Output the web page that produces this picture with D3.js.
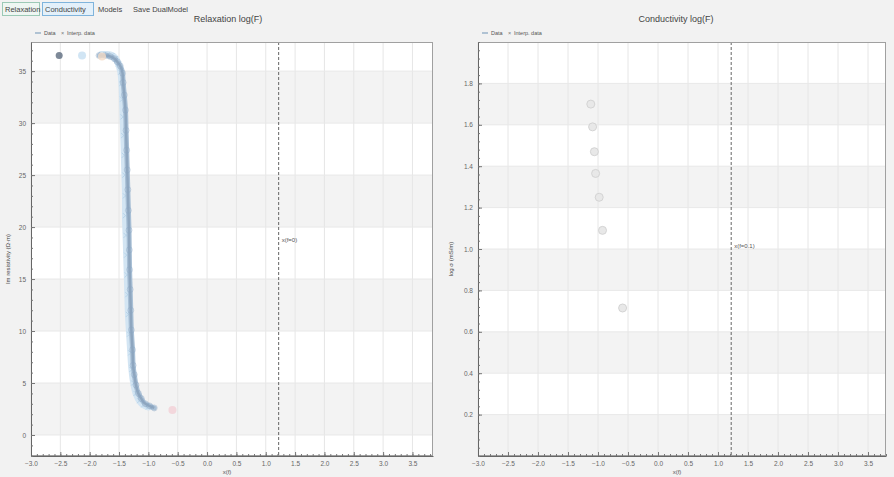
<!DOCTYPE html>
<html><head><meta charset="utf-8">
<script src="https://cdn.jsdelivr.net/npm/d3@7"></script>
<style>
html,body{margin:0;padding:0;background:#f2f2f2;}
svg{display:block;font-family:"Liberation Sans",Arial,sans-serif;}
</style></head><body>
<svg id="c" width="894" height="477"></svg>
<script>
// ---------- data ----------
const tabLabels = ["Relaxation", "Conductivity", "Models", "Save DualModel"];
const titles = ["Relaxation log(F)", "Conductivity log(F)"];
const xTicks = [-3.0, -2.5, -2.0, -1.5, -1.0, -0.5, 0.0, 0.5, 1.0, 1.5, 2.0, 2.5, 3.0, 3.5];
const relaxYTicks = [0, 5, 10, 15, 20, 25, 30, 35];
const condYTicks = [0.2, 0.4, 0.6, 0.8, 1.0, 1.2, 1.4, 1.6, 1.8];

// Relaxation: measured data (line + circles)
const relaxDataX = [-1.84, -1.73, -1.65, -1.58, -1.53, -1.48, -1.44, -1.43, -1.41, -1.39, -1.38, -1.37, -1.36, -1.35, -1.34, -1.33, -1.325, -1.32, -1.31, -1.30, -1.29, -1.27, -1.26, -1.24, -1.21, -1.17, -1.12, -1.05, -0.98, -0.90];
const relaxDataY = [36.5, 36.5, 36.4, 36.2, 35.9, 35.5, 34.8, 33.9, 32.7, 31.25, 29.3, 27.4, 25.5, 23.6, 21.6, 19.7, 17.8, 15.9, 14.0, 12.0, 10.1, 8.2, 6.7, 5.8, 4.8, 4.0, 3.5, 3.0, 2.8, 2.6];
// Relaxation: interpolated data (crosses)
const relaxInterpX = [-1.80, -1.70, -1.62, -1.56, -1.51, -1.47, -1.45, -1.44, -1.43, -1.42, -1.41, -1.40, -1.39, -1.39, -1.38, -1.37, -1.36, -1.35, -1.34, -1.32, -1.30, -1.28, -1.25, -1.21, -1.15, -1.08, -1.00];
const relaxInterpY = [36.6, 36.6, 36.5, 36.2, 35.7, 34.9, 33.8, 32.3, 30.6, 28.8, 26.9, 25.0, 23.0, 21.1, 19.2, 17.3, 15.4, 13.5, 11.6, 9.7, 7.9, 6.3, 5.0, 4.0, 3.3, 2.9, 2.7];
// Special markers (start/end points)
const relaxMarkX = [-2.52, -2.13, -1.79, -0.59];
const relaxMarkY = [36.5, 36.5, 36.4, 2.4];

// Conductivity points
const condX = [-1.12, -1.09, -1.06, -1.04, -0.98, -0.925, -0.59];
const condY = [1.70, 1.59, 1.47, 1.365, 1.25, 1.09, 0.715];

const cutoffX = 1.22;
const cutoffLabels = ["x(f=0)", "x(f=0.1)"];
const legendLabels = ["Data", "Interp. data"];
const xTitle = "x(f)";
const yTitles = ["Im resistivity (Ω·m)", "log σ (mS/m)"];

// ---------- drawing ----------
const svg = d3.select("#c");
const markColors = ["#5d6b7e", "#c6dff1", "#f4dcc8", "#f3d0d6"];

// tab bar
const tabPos = [[2, 37], [42, 51], [95, 28], [130, 62]];
const tabs = svg.append("g");
tabLabels.forEach((t, i) => {
  const [tx, tw] = tabPos[i];
  if (i < 2) {
    tabs.append("rect").attr("x", tx + 0.5).attr("y", 2.5).attr("width", tw).attr("height", 13)
      .attr("fill", i === 0 ? "#eef6f2" : "#e3f0fa").attr("stroke", i === 0 ? "#9cc9b6" : "#7fb4dc");
  }
  tabs.append("text").attr("x", tx + 3).attr("y", 12).attr("font-size", 7.5).attr("fill", "#444").text(t);
});

function panel(cfg) {
  const g = svg.append("g");
  const x = d3.scaleLinear().domain(cfg.xDomain).range([cfg.left, cfg.right]);
  const y = d3.scaleLinear().domain(cfg.yDomain).range([cfg.bottom, cfg.top]);
  const W = cfg.right - cfg.left, H = cfg.bottom - cfg.top;

  g.append("rect").attr("x", cfg.left).attr("y", cfg.top).attr("width", W).attr("height", H).attr("fill", "#fff");
  // alternating bands
  const bandStarts = d3.range(cfg.yDomain[0] < 0 ? 0 : cfg.yDomain[0], cfg.yDomain[1] - 1e-9, 2 * cfg.yStep);
  g.selectAll(null).data(bandStarts).join("rect")
    .attr("x", cfg.left).attr("width", W)
    .attr("y", d => y(Math.min(d + cfg.yStep, cfg.yDomain[1])))
    .attr("height", d => y(d) - y(Math.min(d + cfg.yStep, cfg.yDomain[1])))
    .attr("fill", "#f3f3f3");
  // grid
  g.selectAll(null).data(cfg.xTicks).join("line")
    .attr("x1", d => x(d)).attr("x2", d => x(d)).attr("y1", cfg.top).attr("y2", cfg.bottom)
    .attr("stroke", "#e6e6e6").attr("stroke-width", 1);
  g.selectAll(null).data(cfg.yTicks).join("line")
    .attr("y1", d => y(d)).attr("y2", d => y(d)).attr("x1", cfg.left).attr("x2", cfg.right)
    .attr("stroke", "#e8e8e8").attr("stroke-width", 1);

  // cutoff line
  g.append("line").attr("x1", x(cutoffX)).attr("x2", x(cutoffX)).attr("y1", cfg.top).attr("y2", cfg.bottom)
    .attr("stroke", "#666").attr("stroke-width", 1).attr("stroke-dasharray", "3,2");
  g.append("text").attr("x", x(cutoffX) + 3).attr("y", cfg.cutLabelY).attr("font-size", 6).attr("fill", "#555")
    .text(cfg.cutLabel);

  // data
  cfg.drawData(g, x, y);

  // frame
  g.append("rect").attr("x", cfg.left + 0.5).attr("y", cfg.top + 0.5).attr("width", W - 1).attr("height", H - 1)
    .attr("fill", "none").attr("stroke", "#a0a0a0");

  // axes
  const fmtX = d3.format(".1f");
  const xMinor = d3.range(cfg.xDomain[0], cfg.xDomain[1] + 1e-9, 0.1);
  const yMinor = d3.range(Math.ceil(cfg.yDomain[0] / cfg.yMinor) * cfg.yMinor, cfg.yDomain[1] + 1e-9, cfg.yMinor);
  const axStyle = s => {
    s.selectAll("path").attr("stroke", "#666");
    s.selectAll("line").attr("stroke", "#777");
    s.selectAll("text").attr("font-size", 6.5).attr("fill", "#666").attr("font-family", "Liberation Sans, Arial, sans-serif");
  };
  g.append("g").attr("transform", `translate(0,${cfg.bottom})`)
    .call(d3.axisBottom(x).tickValues(xMinor).tickSize(-2).tickSizeOuter(0).tickFormat(""))
    .call(axStyle);
  g.append("g").attr("transform", `translate(0,${cfg.bottom})`)
    .call(d3.axisBottom(x).tickValues(cfg.xTicks).tickSize(-4).tickSizeOuter(0).tickPadding(5).tickFormat(fmtX))
    .call(axStyle).call(s => s.select("path").remove());
  g.append("g").attr("transform", `translate(${cfg.left},0)`)
    .call(d3.axisLeft(y).tickValues(yMinor).tickSize(-2).tickSizeOuter(0).tickFormat(""))
    .call(axStyle);
  g.append("g").attr("transform", `translate(${cfg.left},0)`)
    .call(d3.axisLeft(y).tickValues(cfg.yTicks).tickSize(-4).tickSizeOuter(0).tickPadding(5).tickFormat(cfg.yFmt))
    .call(axStyle).call(s => s.select("path").remove());

  // titles
  g.append("text").attr("x", cfg.titleX).attr("y", 22).attr("text-anchor", "middle")
    .attr("font-size", 9).attr("fill", "#444").text(cfg.title);
  g.append("text").attr("x", (cfg.left + cfg.right) / 2 - 5).attr("y", 474).attr("text-anchor", "middle")
    .attr("font-size", 6).attr("fill", "#555").text(xTitle);
  g.append("text").attr("transform", `translate(${cfg.yTitleX},${(cfg.top + cfg.bottom) / 2 + 10}) rotate(-90)`)
    .attr("text-anchor", "middle").attr("font-size", 6).attr("fill", "#444").text(cfg.yTitle);

  // legend
  const lg = g.append("g").attr("transform", `translate(${cfg.left + 4},35)`);
  lg.append("line").attr("x1", 0).attr("x2", 6).attr("y1", -2).attr("y2", -2).attr("stroke", "#6f93b5");
  lg.append("text").attr("x", 9).attr("y", 0).attr("font-size", 5.5).attr("fill", "#555").text(legendLabels[0]);
  lg.append("text").attr("x", 26).attr("y", 0).attr("font-size", 5.5).attr("fill", "#777").text("×");
  lg.append("text").attr("x", 32).attr("y", 0).attr("font-size", 5.5).attr("fill", "#555").text(legendLabels[1]);
}

panel({
  left: 31, right: 433, top: 42, bottom: 456,
  xDomain: [-3.0, 3.85], yDomain: [-2.02, 37.8], yStep: 5, yMinor: 1,
  xTicks: xTicks, yTicks: relaxYTicks, yFmt: d3.format("d"),
  title: titles[0], titleX: 228, yTitle: yTitles[0], yTitleX: 10,
  cutLabel: cutoffLabels[0], cutLabelY: 242,
  drawData: (g, x, y) => {
    const pts = relaxDataX.map((d, i) => [d, relaxDataY[i]]);
    const ip = relaxInterpX.map((d, i) => [d, relaxInterpY[i]]);
    const line = d3.line().x(d => x(d[0])).y(d => y(d[1])).curve(d3.curveMonotoneY);
    g.append("path").datum(ip).attr("d", line)
      .attr("fill", "none").attr("stroke", "#d3e5f3").attr("stroke-width", 7).attr("stroke-linecap", "round");
    g.selectAll(null).data(ip).join("path")
      .attr("transform", d => `translate(${x(d[0])},${y(d[1])})`)
      .attr("d", "M-2.5,-2.5L2.5,2.5M-2.5,2.5L2.5,-2.5")
      .attr("stroke", "#b7d4ea").attr("stroke-width", 1);
    g.append("path").datum(pts).attr("d", line)
      .attr("fill", "none").attr("stroke", "#a9c0d6").attr("stroke-width", 5).attr("stroke-linecap", "round");
    g.append("path").datum(pts).attr("d", line)
      .attr("fill", "none").attr("stroke", "#8ea6bf").attr("stroke-width", 2.5);
    g.selectAll(null).data(pts).join("circle")
      .attr("cx", d => x(d[0])).attr("cy", d => y(d[1])).attr("r", 3)
      .attr("fill", "none").attr("stroke", "#8aa6c2").attr("stroke-opacity", 0.4);
    g.selectAll(null).data(relaxMarkX.map((d, i) => [d, relaxMarkY[i], i])).join("circle")
      .attr("cx", d => x(d[0])).attr("cy", d => y(d[1])).attr("r", d => d[2] === 0 ? 3.5 : 4)
      .attr("fill", d => markColors[d[2]]).attr("fill-opacity", 0.8);
  }
});

panel({
  left: 478, right: 886, top: 42, bottom: 456,
  xDomain: [-3.0, 3.8], yDomain: [0, 2.0], yStep: 0.2, yMinor: 0.04,
  xTicks: xTicks, yTicks: condYTicks, yFmt: d3.format(".1f"),
  title: titles[1], titleX: 676, yTitle: yTitles[1], yTitleX: 453,
  cutLabel: cutoffLabels[1], cutLabelY: 248,
  drawData: (g, x, y) => {
    g.selectAll(null).data(condX.map((d, i) => [d, condY[i]])).join("circle")
      .attr("cx", d => x(d[0])).attr("cy", d => y(d[1])).attr("r", 4)
      .attr("fill", "#e8e8e8").attr("stroke", "#d4d4d4").attr("stroke-width", 1);
  }
});
</script>
</body></html>
